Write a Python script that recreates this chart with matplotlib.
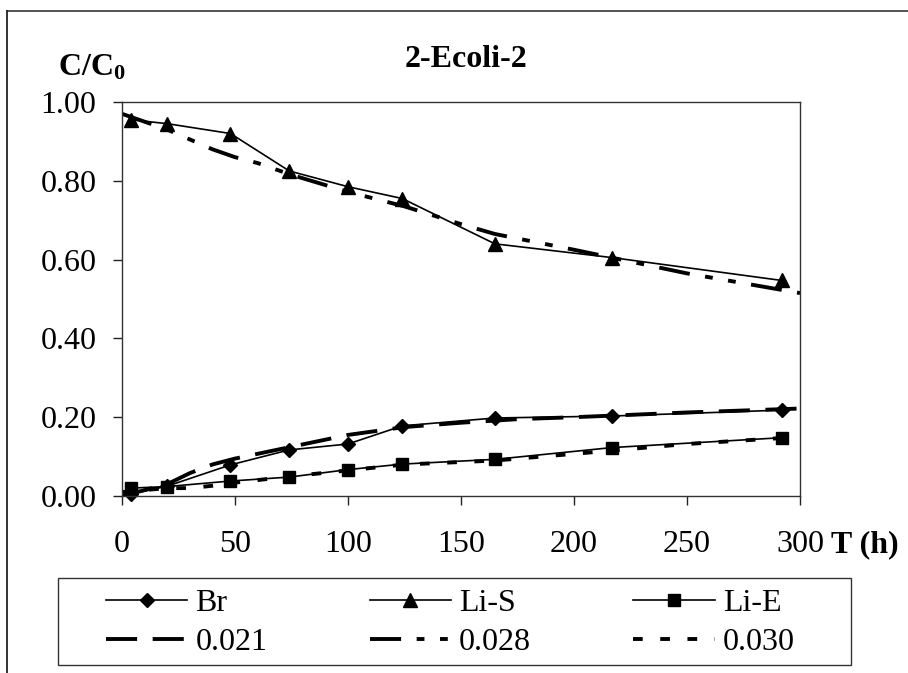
import matplotlib.pyplot as plt
from matplotlib.lines import Line2D
from matplotlib.patches import Rectangle

plt.rcParams['font.family'] = ['Liberation Serif', 'DejaVu Serif']
plt.rcParams['mathtext.fontset'] = 'custom'
plt.rcParams['mathtext.rm'] = 'Liberation Serif'
plt.rcParams['mathtext.bf'] = 'Liberation Serif:bold'

# measured data
t_obs = [4, 20, 48, 74, 100, 124, 165, 217, 292]
br = [0.005, 0.025, 0.079, 0.117, 0.132, 0.178, 0.198, 0.203, 0.218]
li_s = [0.955, 0.945, 0.92, 0.825, 0.785, 0.755, 0.64, 0.605, 0.547]
li_e = [0.02, 0.024, 0.038, 0.048, 0.067, 0.081, 0.093, 0.123, 0.148]

# model curves
t_021 = [0, 10, 20, 30, 40, 50, 75, 100, 125, 150, 175, 200, 250, 300]
m_021 = [0.0, 0.015, 0.03, 0.058, 0.08, 0.095, 0.125, 0.155, 0.175, 0.186, 0.195, 0.2, 0.212, 0.222]
t_028 = [0, 5, 10, 20, 30, 40, 50, 60, 75, 100, 125, 150, 165, 200, 250, 300]
m_028 = [0.97, 0.96, 0.95, 0.93, 0.905, 0.88, 0.86, 0.845, 0.815, 0.772, 0.735, 0.69, 0.665, 0.625, 0.565, 0.515]
t_030 = [0, 20, 30, 40, 50, 75, 100, 125, 165, 200, 250, 300]
m_030 = [0.01, 0.02, 0.02, 0.026, 0.034, 0.05, 0.065, 0.08, 0.09, 0.107, 0.132, 0.15]

xticks = [0, 50, 100, 150, 200, 250, 300]
yticks = [0.0, 0.2, 0.4, 0.6, 0.8, 1.0]

W, H = 908, 673
FS = 23
fig = plt.figure(figsize=(W / 100, H / 100), dpi=100)
ax = fig.add_axes([122 / W, 1 - 496 / H, 678 / W, 394 / H])

mk = dict(color='black', lw=1.2, markeredgecolor='black', clip_on=False)
ax.plot(t_obs, br, marker='D', markersize=7, **mk)
ax.plot(t_obs, li_s, marker='^', markersize=10, **mk)
ax.plot(t_obs, li_e, marker='s', markersize=8, **mk)

ax.plot(t_021, m_021, color='black', lw=2.8, dashes=(8, 4))
ax.plot(t_028, m_028, color='black', lw=2.8, dashes=(8, 4, 2, 4, 2, 4))
ax.plot(t_030, m_030, color='black', lw=2.8, dashes=(2.5, 4.5))

ax.set_xlim(0, 300)
ax.set_ylim(0, 1.0)
ax.set_xticks(xticks)
ax.set_yticks(yticks)
ax.set_yticklabels([f'{v:.2f}' for v in yticks])
ax.tick_params(direction='out', length=6.5, width=1, labelsize=FS, color='#222222')
ax.tick_params(axis='y', pad=12)
ax.tick_params(axis='x', pad=18)
for s in ax.spines.values():
    s.set_linewidth(1.0)
    s.set_color('#333333')

fig.text(466 / W, 1 - 67 / H, '2-Ecoli-2', ha='center', va='baseline',
         fontsize=FS, fontweight='bold')
fig.text(58 / W, 1 - 75 / H, r'$\mathbf{C/C_0}$', ha='left', va='baseline', fontsize=FS)
fig.text(831 / W, 1 - 545 / H, 'T (h)', ha='left', va='center', fontsize=FS, fontweight='bold')

# outer frame (top and left only visible)
fig.add_artist(Line2D([7 / W, 1], [1 - 11 / H, 1 - 11 / H], color='#444444', lw=1.3))
fig.add_artist(Line2D([7 / W, 7 / W], [0, 1 - 11 / H], color='#222222', lw=1.3))

# legend box
fig.add_artist(Rectangle((58 / W, 1 - 665 / H), (851 - 58) / W, (665 - 578) / H,
                         transform=fig.transFigure, fill=False, edgecolor='#333333', lw=1.0))
handles = [
    Line2D([], [], color='black', lw=1.2, marker='D', markersize=7),
    Line2D([], [], color='black', lw=2.8, dashes=(8, 4)),
    Line2D([], [], color='black', lw=1.2, marker='^', markersize=10),
    Line2D([], [], color='black', lw=2.8, dashes=(8, 4, 2, 4, 2, 4)),
    Line2D([], [], color='black', lw=1.2, marker='s', markersize=8),
    Line2D([], [], color='black', lw=2.8, dashes=(2.5, 4.5)),
]
labels = ['Br', '0.021', 'Li-S', '0.028', 'Li-E', '0.030']
fig.legend(handles, labels, ncol=3, loc='center left', frameon=False,
           bbox_to_anchor=(106 / W, 1 - 623 / H), fontsize=FS,
           handlelength=2.55, handletextpad=0.25, columnspacing=3.2,
           labelspacing=0.32, borderpad=0, borderaxespad=0)

fig.savefig('out.png', dpi=100)
